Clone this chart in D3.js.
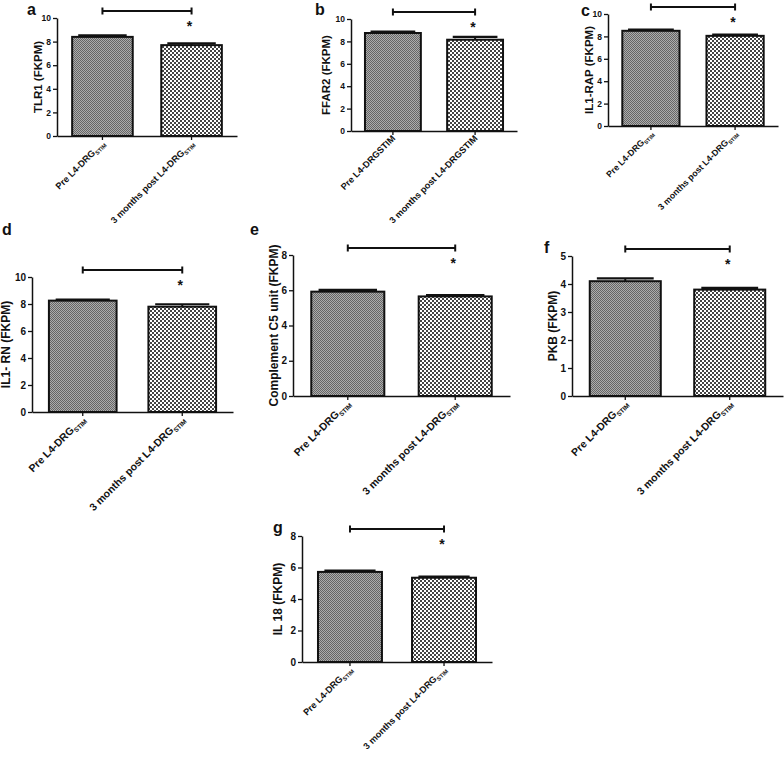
<!DOCTYPE html>
<html>
<head>
<meta charset="utf-8">
<script src="https://cdn.jsdelivr.net/npm/d3@7"></script>
<style>
    body { margin: 0; background: #fff; }
    svg text { font-family: "Liberation Sans", Arial, sans-serif; font-weight: bold; fill: #111; }
</style>
</head>
<body>
<svg id="chart" width="784" height="758"></svg>
<script>
// chart data
const panelLetters = ["a", "b", "c", "d", "e", "f", "g"];
const yLabels = ["TLR1 (FKPM)", "FFAR2 (FKPM)", "IL1-RAP (FKPM)", "IL1- RN (FKPM)",
    "Complement C5 unit (FKPM)", "PKB (FKPM)", "IL 18 (FKPM)"];
const yMax = [10, 10, 10, 10, 8, 5, 8];
const yTickStep = [2, 2, 2, 2, 2, 1, 2];
const categories = ["Pre L4-DRG", "3 months post L4-DRG"];
const stimText = "STIM";
const preMeans = [8.4, 8.75, 8.5, 8.25, 5.92, 4.1, 5.72];
const preErr = [0.12, 0.12, 0.1, 0.08, 0.1, 0.1, 0.08];
const postMeans = [7.7, 8.15, 8.05, 7.8, 5.65, 3.8, 5.35];
const postErr = [0.15, 0.25, 0.1, 0.18, 0.08, 0.06, 0.07];
const significance = ["*", "*", "*", "*", "*", "*", "*"];

// where each panel sits on the page (pixels) and its label sizes
const layout = [
    {x0: 57,  x1: 237, top: 18,  bot: 136, lx: 27,  ly: 14.5, yl: 41.5, tick: 8.5, lab: 9.2,  sub: true},
    {x0: 351, x1: 517, top: 19,  bot: 131, lx: 315, ly: 14.5, yl: 330,  tick: 8.5, lab: 9.1,  sub: false},
    {x0: 608, x1: 778, top: 14,  bot: 126, lx: 581, ly: 16,   yl: 592.5, tick: 8.5, lab: 8.8, sub: true},
    {x0: 32,  x1: 233, top: 277, bot: 412, lx: 2,   ly: 235,  yl: 10,   tick: 10,  lab: 10.5, sub: true},
    {x0: 293, x1: 510, top: 255, bot: 396, lx: 250, ly: 235,  yl: 278,  tick: 10,  lab: 10.5, sub: true},
    {x0: 572, x1: 783, top: 256, bot: 396, lx: 544, ly: 253,  yl: 557,  tick: 10,  lab: 10.5, sub: true},
    {x0: 302, x1: 492, top: 536, bot: 662, lx: 273, ly: 533,  yl: 282,  tick: 10,  lab: 9.2,  sub: true}
];

const svg = d3.select("#chart");

// checkered fills like the original print
const defs = svg.append("defs");
let p1 = defs.append("pattern").attr("id", "fillPre")
    .attr("width", 2).attr("height", 2).attr("patternUnits", "userSpaceOnUse");
p1.append("rect").attr("width", 2).attr("height", 2).attr("fill", "#adadad");
p1.append("rect").attr("width", 1).attr("height", 1).attr("fill", "#666");
p1.append("rect").attr("x", 1).attr("y", 1).attr("width", 1).attr("height", 1).attr("fill", "#666");

let p2 = defs.append("pattern").attr("id", "fillPost")
    .attr("width", 4).attr("height", 4).attr("patternUnits", "userSpaceOnUse");
p2.append("rect").attr("width", 4).attr("height", 4).attr("fill", "#fff");
p2.append("rect").attr("width", 2).attr("height", 2).attr("fill", "#444");
p2.append("rect").attr("x", 2).attr("y", 2).attr("width", 2).attr("height", 2).attr("fill", "#444");

function drawPanel(i)
{
    const L = layout[i];
    const g = svg.append("g");
    const bars = [
        {name: categories[0], mean: preMeans[i], err: preErr[i], fill: "url(#fillPre)"},
        {name: categories[1], mean: postMeans[i], err: postErr[i], fill: "url(#fillPost)"}
    ];

    const x = d3.scaleBand()
        .domain(categories)
        .range([L.x0, L.x1])
        .paddingInner(0.32)
        .paddingOuter(0.17);

    const y = d3.scaleLinear()
        .domain([0, yMax[i]])
        .range([L.bot, L.top]);

    // y axis
    const yAxis = g.append("g")
        .attr("transform", "translate(" + L.x0 + ",0)")
        .call(d3.axisLeft(y)
            .tickValues(d3.range(0, yMax[i] + 0.001, yTickStep[i]))
            .tickFormat(d3.format("d"))
            .tickSize(4).tickSizeOuter(0).tickPadding(2));
    yAxis.select(".domain").attr("stroke", "#111").attr("stroke-width", 1.5);
    yAxis.selectAll(".tick line").attr("stroke", "#111").attr("stroke-width", 1.3);
    yAxis.selectAll(".tick text").attr("font-size", L.tick).attr("font-family", null).attr("fill", "#111");

    // x axis
    const xAxis = g.append("g")
        .attr("transform", "translate(0," + L.bot + ")")
        .call(d3.axisBottom(x).tickSize(4).tickSizeOuter(0).tickFormat(""));
    xAxis.select(".domain").attr("stroke", "#111").attr("stroke-width", 1.5);
    xAxis.selectAll(".tick line").attr("stroke", "#111").attr("stroke-width", 1.3);

    // bars
    g.selectAll(".bar")
        .data(bars)
        .enter().append("rect")
        .attr("class", "bar")
        .attr("x", function(d) { return x(d.name); })
        .attr("y", function(d) { return y(d.mean); })
        .attr("width", x.bandwidth())
        .attr("height", function(d) { return y(0) - y(d.mean); })
        .attr("fill", function(d) { return d.fill; })
        .attr("stroke", "#111")
        .attr("stroke-width", 2);

    // error bars (upper only)
    const capW = x.bandwidth() * 0.8;
    g.selectAll(".err")
        .data(bars)
        .enter().append("line")
        .attr("x1", function(d) { return x(d.name) + x.bandwidth() / 2; })
        .attr("x2", function(d) { return x(d.name) + x.bandwidth() / 2; })
        .attr("y1", function(d) { return y(d.mean); })
        .attr("y2", function(d) { return y(d.mean + d.err); })
        .attr("stroke", "#111")
        .attr("stroke-width", 2);
    g.selectAll(".cap")
        .data(bars)
        .enter().append("line")
        .attr("x1", function(d) { return x(d.name) + (x.bandwidth() - capW) / 2; })
        .attr("x2", function(d) { return x(d.name) + (x.bandwidth() + capW) / 2; })
        .attr("y1", function(d) { return y(d.mean + d.err); })
        .attr("y2", function(d) { return y(d.mean + d.err); })
        .attr("stroke", "#111")
        .attr("stroke-width", 2.2);

    // rotated category labels
    bars.forEach(function(d) {
        const cx = x(d.name) + x.bandwidth() / 2;
        const t = g.append("text")
            .attr("transform", "translate(" + (cx + 3) + "," + (L.bot + 8) + ") rotate(-45)")
            .attr("text-anchor", "end")
            .attr("font-size", L.lab);
        if(L.sub)
        {
            t.append("tspan").text(d.name);
            t.append("tspan").attr("font-size", L.lab * 0.62).attr("dy", L.lab * 0.25).text(stimText);
        }
        else
        {
            t.text(d.name + stimText);
        }
    });

    // y label
    g.append("text")
        .attr("transform", "translate(" + L.yl + "," + ((L.top + L.bot) / 2) + ") rotate(-90)")
        .attr("text-anchor", "middle")
        .attr("font-size", L.tick > 9 ? 12 : 11.5)
        .text(yLabels[i]);

    // panel letter
    g.append("text")
        .attr("x", L.lx)
        .attr("y", L.ly)
        .attr("font-size", 16)
        .text(panelLetters[i]);

    // significance bracket between the two bar centres
    const c1 = x(categories[0]) + x.bandwidth() / 2;
    const c2 = x(categories[1]) + x.bandwidth() / 2;
    const by = L.top - 7;
    g.append("line").attr("x1", c1).attr("x2", c2).attr("y1", by).attr("y2", by)
        .attr("stroke", "#111").attr("stroke-width", 2);
    [c1, c2].forEach(function(cx) {
        g.append("line").attr("x1", cx).attr("x2", cx).attr("y1", by - 3.5).attr("y2", by + 3.5)
            .attr("stroke", "#111").attr("stroke-width", 2);
    });
    g.append("text")
        .attr("x", c2 - 2)
        .attr("y", L.top + 5 + 8)
        .attr("text-anchor", "middle")
        .attr("font-size", 14)
        .attr("font-weight", "normal")
        .text(significance[i]);
}

for(let i = 0; i < panelLetters.length; i++)
{
    drawPanel(i);
}
</script>
</body>
</html>
